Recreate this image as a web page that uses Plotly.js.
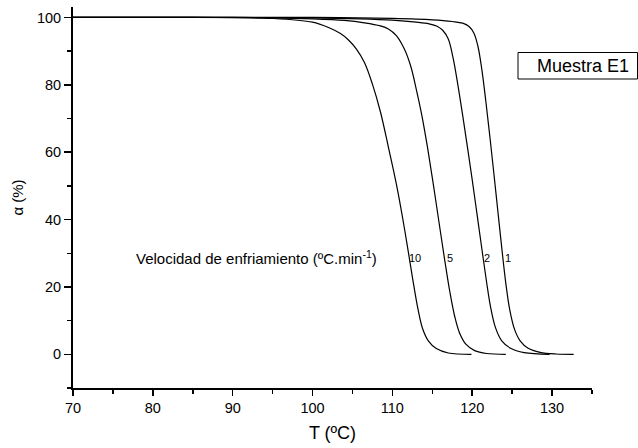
<!DOCTYPE html>
<html>
<head>
<meta charset="utf-8">
<script src="https://cdn.plot.ly/plotly-3.0.1.min.js"></script>
<style>html,body{margin:0;padding:0;background:#fff;}#chart{width:638px;height:448px;}</style>
</head>
<body>
<div id="chart"></div>
<script>
// Cooling rate 10 ºC/min
const T10 = [70, 85, 95, 100, 102, 103.5, 104.5, 105.5, 106.5, 107.5, 108.5, 109.5, 110.5, 111.5, 112.5, 113.2, 113.8, 114.5, 115.5, 117, 119.9];
const A10 = [100, 100, 99.7, 98.6, 97.0, 95.2, 93.3, 90.6, 86.6, 80.2, 72.0, 61.5, 50.5, 37.5, 23.0, 13.5, 7.5, 4.0, 1.7, 0.4, 0];
// Cooling rate 5 ºC/min
const T5 = [70, 85, 95, 100, 104, 106.5, 108.5, 109.5, 110.5, 111.5, 112.3, 113, 113.7, 114.4, 115.1, 115.8, 116.5, 117.2, 117.8, 118.4, 119.2, 120.3, 121.8, 124.2];
const A5 = [100, 100, 99.9, 99.6, 99.1, 98.4, 97.5, 96.6, 94.6, 90.6, 85.5, 78.6, 70.8, 61.4, 50.9, 39.8, 28.8, 18.5, 11.3, 6.4, 3.0, 1.1, 0.25, 0];
// Cooling rate 2 ºC/min
const T2 = [70, 90, 100, 106, 110, 113, 114.6, 115.6, 116.3, 117, 117.6, 118.2, 118.8, 119.4, 120, 120.6, 121.2, 121.8, 122.3, 122.9, 123.7, 124.8, 126.5, 129.7];
const A2 = [100, 100, 99.9, 99.6, 99.2, 98.6, 98.1, 97.4, 96.2, 93.6, 88.0, 80.0, 71.0, 61.5, 51.8, 41.6, 31.4, 21.4, 14.0, 8.0, 4.0, 1.8, 0.5, 0];
// Cooling rate 1 ºC/min
const T1 = [70, 90, 100, 110, 115, 117.5, 118.8, 119.6, 120.2, 120.7, 121.2, 121.7, 122.2, 122.7, 123.2, 123.7, 124.2, 124.7, 125.3, 126, 127, 128.5, 130.5, 132.7];
const A1 = [100, 100, 100, 99.7, 99.3, 98.8, 98.3, 97.3, 95.4, 91.6, 84.6, 75.2, 64.8, 53.9, 42.7, 31.6, 21.2, 13.2, 7.4, 4.0, 1.8, 0.6, 0.1, 0];

const rateLabels = ["10", "5", "2", "1"];
const labelX = [112.85, 117.2, 121.85, 124.5];
const labelY = 28.7;

const font = "'Liberation Sans', Arial, sans-serif";
const line = {color: "black", width: 1.2, shape: "spline", smoothing: 1};
const series = [[T10, A10], [T5, A5], [T2, A2], [T1, A1]];
const data = series.map(s => ({x: s[0], y: s[1], type: "scatter", mode: "lines", line: line, hoverinfo: "skip"}));

const annotations = rateLabels.map((t, i) => ({
  x: labelX[i], y: labelY, xref: "x", yref: "y", text: t, showarrow: false,
  xanchor: "center", yanchor: "middle", font: {family: font, size: 11, color: "#000000"}
}));
annotations.push({
  x: 77.65, y: labelY, xref: "x", yref: "y", text: "Velocidad de enfriamiento (ºC.min<sup>-1</sup>)",
  showarrow: false, xanchor: "left", yanchor: "middle", font: {family: font, size: 15, color: "#000000"}
});
annotations.push({
  x: 0.9, y: 0.87, xref: "paper", yref: "paper", text: "Muestra E1",
  showarrow: false, xanchor: "center", yanchor: "middle", font: {family: font, size: 18, color: "#000000"}
});

const layout = {
  width: 638, height: 448,
  margin: {l: 73, r: 46, t: 7, b: 60},
  paper_bgcolor: "white", plot_bgcolor: "white",
  showlegend: false,
  font: {family: font, color: "#000000"},
  xaxis: {
    range: [70, 135], dtick: 10, tick0: 70,
    showgrid: false, zeroline: false,
    showline: true, linecolor: "black", linewidth: 2,
    ticks: "outside", ticklen: 6, tickwidth: 1.5, tickcolor: "black",
    tickfont: {family: font, size: 14.5, color: "#000000"},
    minor: {dtick: 5, ticks: "outside", ticklen: 4, tickwidth: 1.5, tickcolor: "black", showgrid: false},
    title: {text: "T (ºC)", font: {family: font, size: 18, color: "#000000"}, standoff: 11}
  },
  yaxis: {
    range: [-10, 103.1], dtick: 20, tick0: 0,
    showgrid: false, zeroline: false,
    showline: true, linecolor: "black", linewidth: 2,
    ticks: "outside", ticklen: 7, tickwidth: 1.5, tickcolor: "black",
    tickfont: {family: font, size: 14.5, color: "#000000"},
    minor: {dtick: 10, ticks: "outside", ticklen: 4, tickwidth: 1.5, tickcolor: "black", showgrid: false},
    title: {text: "α (%)", font: {family: font, size: 15, color: "#000000"}, standoff: 10}
  },
  shapes: [{
    type: "rect", xref: "paper", yref: "paper",
    x0: 0.858, x1: 1.088, y0: 0.81, y1: 0.88,
    line: {color: "black", width: 1}, fillcolor: "rgba(0,0,0,0)"
  }],
  annotations: annotations
};

// convert box pixel extents to paper fractions
const plotW = 638 - 73 - 46, plotH = 448 - 7 - 60;
layout.shapes[0].x0 = (518 - 73) / plotW;
layout.shapes[0].x1 = (637.5 - 73) / plotW;
layout.shapes[0].y0 = (448 - 60 - 79) / plotH;
layout.shapes[0].y1 = (448 - 60 - 52.5) / plotH;
layout.annotations[layout.annotations.length - 1].x = (582.5 - 73) / plotW;
layout.annotations[layout.annotations.length - 1].y = (448 - 60 - 65.7) / plotH;

Plotly.newPlot("chart", data, layout, {staticPlot: true, displayModeBar: false});
</script>
</body>
</html>
